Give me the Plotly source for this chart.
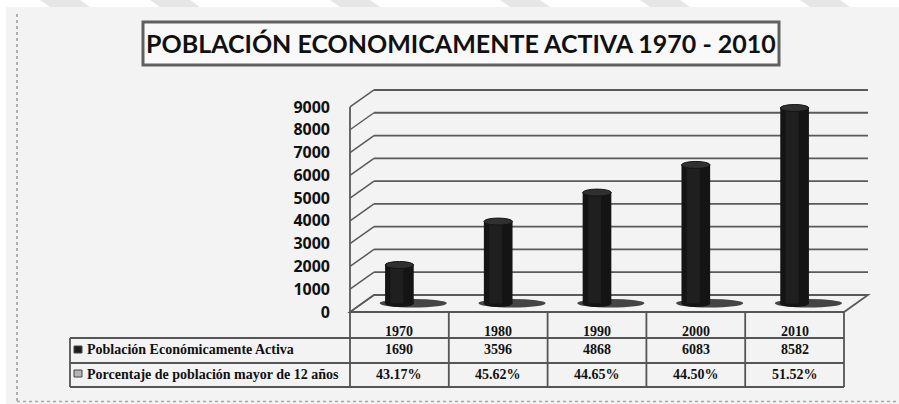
import plotly.graph_objects as go

# ---------------- data ----------------
years = ["1970", "1980", "1990", "2000", "2010"]
pea_values = [1690, 3596, 4868, 6083, 8582]
pct_values = ["43.17%", "45.62%", "44.65%", "44.50%", "51.52%"]
row_labels = ["Población Económicamente Activa", "Porcentaje de población mayor de 12 años"]
y_ticks = [0, 1000, 2000, 3000, 4000, 5000, 6000, 7000, 8000, 9000]
title_text = "POBLACIÓN ECONOMICAMENTE ACTIVA 1970 - 2010"

# ---------------- layout geometry ----------------
W, H = 899, 404
X0PX = 350.0          # pixel of front-left corner of plot (category -0.5)
PXU = 98.8            # pixels per category
Y0PX = 312.0          # pixel of value 0 (front)
PXV = 0.02278         # pixels per value unit
x_range = [-0.5 - X0PX / PXU, -0.5 + (W - X0PX) / PXU]
y_range = [-(H - Y0PX) / PXV, Y0PX / PXV]
DX = 24 / PXU         # depth offset (x)
DY = 17 / PXV         # depth offset (y)
HALF = DY / 2
n = len(years)
xs = list(range(n))
LEFT, RIGHT = -0.5, n - 0.5


def yp(p):
    return 1 - p / H


GRID = "#5a5a5a"
BG = "#f3f3f3"

shapes = []
# background panel
shapes.append(dict(type="rect", xref="paper", yref="paper", x0=6 / W, x1=1, y0=0, y1=yp(7),
                   fillcolor=BG, line=dict(width=0), layer="below"))
# faint diagonal stripes in the top white margin
for sx in [40, 150, 330, 500, 640, 800]:
    shapes.append(dict(type="path", xref="paper", yref="paper",
                       path=f"M {sx / W},{yp(0)} L {(sx + 40) / W},{yp(0)} L {(sx + 50) / W},{yp(7)} L {(sx + 10) / W},{yp(7)} Z",
                       fillcolor="#e6e6e6", line=dict(width=0), layer="below"))
# dotted left and bottom border
shapes.append(dict(type="line", xref="paper", yref="paper", x0=17 / W, x1=17 / W, y0=yp(14), y1=yp(401),
                   line=dict(color="#9a9a9a", width=1.5, dash="dot"), layer="below"))
shapes.append(dict(type="line", xref="paper", yref="paper", x0=17 / W, x1=1, y0=yp(401.5), y1=yp(401.5),
                   line=dict(color="#a8a8a8", width=1.5, dash="dot"), layer="below"))

# title box
shapes.append(dict(type="rect", xref="paper", yref="paper", x0=143 / W, x1=779 / W, y0=yp(65), y1=yp(22),
                   fillcolor="#f9f9f9", line=dict(color="#606060", width=3), layer="below"))

# floor
shapes.append(dict(type="path", xref="x", yref="y",
                   path=f"M {LEFT},0 L {RIGHT},0 L {RIGHT + DX},{DY} L {LEFT + DX},{DY} Z",
                   fillcolor=BG, line=dict(color=GRID, width=1.8), layer="below"))
# back wall gridlines and side wall diagonals
for v in y_ticks[1:]:
    shapes.append(dict(type="line", xref="x", yref="y", x0=LEFT + DX, x1=RIGHT + DX, y0=v + DY, y1=v + DY,
                       line=dict(color=GRID, width=1.8), layer="below"))
for v in y_ticks:
    shapes.append(dict(type="line", xref="x", yref="y", x0=LEFT, x1=LEFT + DX, y0=v, y1=v + DY,
                       line=dict(color=GRID, width=1.5), layer="below"))
# front vertical axis
shapes.append(dict(type="line", xref="x", yref="y", x0=LEFT, x1=LEFT, y0=0, y1=y_ticks[-1],
                   line=dict(color=GRID, width=1.8), layer="below"))

# shadows and bottom ellipses of cylinders
BW = 0.29
for i, v in zip(xs, pea_values):
    shapes.append(dict(type="circle", xref="x", yref="y", x0=i - 0.2, x1=i + 0.48,
                       y0=HALF - 4 / PXV, y1=HALF + 4.5 / PXV,
                       fillcolor="#262626", opacity=0.85, line=dict(width=0), layer="below"))
    shapes.append(dict(type="circle", xref="x", yref="y", x0=i - BW / 2, x1=i + BW / 2,
                       y0=HALF - 3.5 / PXV, y1=HALF + 3.5 / PXV,
                       fillcolor="#141414", line=dict(width=0), layer="below"))
# top ellipses
for i, v in zip(xs, pea_values):
    shapes.append(dict(type="circle", xref="x", yref="y", x0=i - BW / 2, x1=i + BW / 2,
                       y0=v + HALF - 3.5 / PXV, y1=v + HALF + 3.5 / PXV,
                       fillcolor="#303030", line=dict(color="#141414", width=1), layer="above"))

# table lines
TL = "#555555"
table_x_left = 70 / W
table_x_right = (X0PX + n * PXU) / W
for r in [338, 363, 387]:
    shapes.append(dict(type="line", xref="paper", yref="paper", x0=table_x_left, x1=table_x_right,
                       y0=yp(r), y1=yp(r), line=dict(color=TL, width=1.8), layer="above"))
shapes.append(dict(type="line", xref="paper", yref="paper", x0=X0PX / W, x1=table_x_right,
                   y0=yp(312), y1=yp(312), line=dict(color=TL, width=1.8), layer="above"))
for k in range(n + 1):
    xpx = X0PX + k * PXU
    shapes.append(dict(type="line", xref="paper", yref="paper", x0=xpx / W, x1=xpx / W,
                       y0=yp(312), y1=yp(387), line=dict(color=TL, width=1.8), layer="above"))
shapes.append(dict(type="line", xref="paper", yref="paper", x0=table_x_left, x1=table_x_left,
                   y0=yp(338), y1=yp(387), line=dict(color=TL, width=1.8), layer="above"))
# legend keys
shapes.append(dict(type="rect", xref="paper", yref="paper", x0=74 / W, x1=82 / W, y0=yp(353), y1=yp(346),
                   fillcolor="#1e1e1e", line=dict(color="#444", width=1), layer="above"))
shapes.append(dict(type="rect", xref="paper", yref="paper", x0=74 / W, x1=82 / W, y0=yp(377), y1=yp(370),
                   fillcolor="#b5b5b5", line=dict(color="#444", width=1), layer="above"))

fig = go.Figure()
# cylinders: dark body with a slightly lighter core for shading
fig.add_trace(go.Bar(x=xs, y=pea_values, base=HALF, width=BW, marker=dict(color="#141414", line=dict(width=0)),
                     hoverinfo="skip", showlegend=False))
fig.add_trace(go.Bar(x=xs, y=pea_values, base=HALF, width=0.13, offset=-0.09,
                     marker=dict(color="#1f1f1f", line=dict(width=0)), hoverinfo="skip", showlegend=False))

annotations = []
annotations.append(dict(text=f"<b>{title_text}</b>", xref="paper", yref="paper", x=461 / W, y=yp(43),
                        showarrow=False, font=dict(family="Lato", size=25, color="#111111"),
                        xanchor="center", yanchor="middle"))
SERIF = "Liberation Serif"
for i, (yr, v, p) in enumerate(zip(years, pea_values, pct_values)):
    annotations.append(dict(text=f"<b>{yr}</b>", xref="x", yref="paper", x=i, y=yp(331), showarrow=False,
                            font=dict(family=SERIF, size=14, color="#111"), yanchor="middle"))
    annotations.append(dict(text=f"<b>{v}</b>", xref="x", yref="paper", x=i, y=yp(349), showarrow=False,
                            font=dict(family=SERIF, size=14, color="#111"), yanchor="middle"))
    annotations.append(dict(text=f"<b>{p}</b>", xref="x", yref="paper", x=i, y=yp(374), showarrow=False,
                            font=dict(family=SERIF, size=14, color="#111"), yanchor="middle"))
for r, lab in zip([349, 374], row_labels):
    annotations.append(dict(text=f"<b>{lab}</b>", xref="paper", yref="paper", x=85 / W, y=yp(r),
                            showarrow=False, xanchor="left", yanchor="middle",
                            font=dict(family=SERIF, size=14, color="#111")))

fig.update_layout(
    width=W, height=H,
    margin=dict(l=0, r=0, t=0, b=0),
    paper_bgcolor="white", plot_bgcolor="rgba(0,0,0,0)",
    barmode="overlay",
    shapes=shapes, annotations=annotations,
    xaxis=dict(range=x_range, domain=[0, 1], visible=False, fixedrange=True),
    yaxis=dict(range=y_range, domain=[0, 1], anchor="free", position=X0PX / W,
               tickvals=y_ticks, ticktext=[str(t) for t in y_ticks],
               showgrid=False, zeroline=False, showline=False, ticks="",
               ticklabelstandoff=20, fixedrange=True,
               tickfont=dict(family="Open Sans", size=16, color="#111", weight="bold")),
)

fig.write_html("out.html", config={"displayModeBar": False},
               post_script="document.body.style.margin='0px';document.body.style.overflow='hidden';")
